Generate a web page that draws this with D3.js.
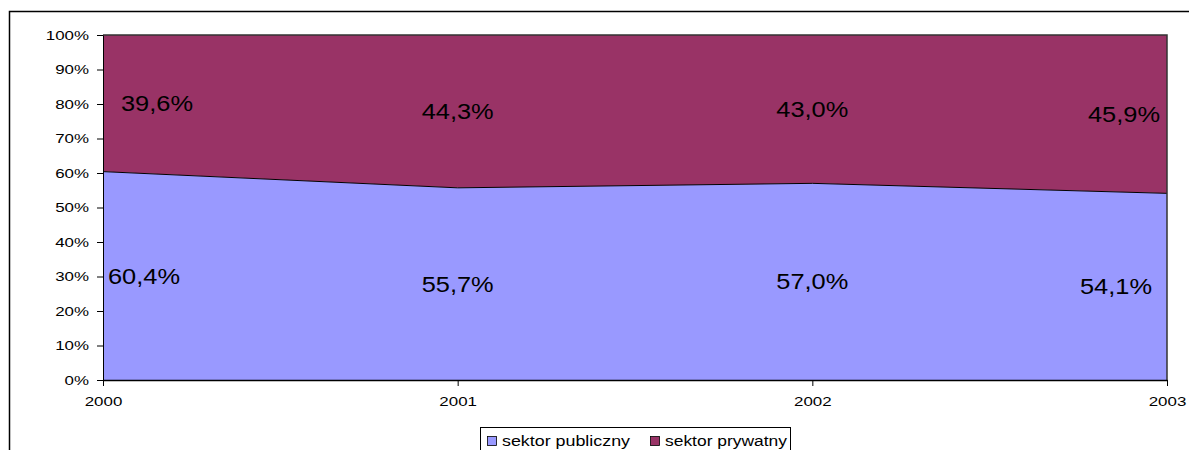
<!DOCTYPE html>
<html>
<head>
<meta charset="utf-8">
<script src="https://cdn.jsdelivr.net/npm/d3@7"></script>
<style>
  body { margin: 0; background: #fff; }
  svg { display: block; font-family: "Liberation Sans", Arial, sans-serif; }
</style>
</head>
<body>
<script>
const years = ['2000', '2001', '2002', '2003'];
const publiczny = [60.4, 55.7, 57.0, 54.1];
const prywatny = [39.6, 44.3, 43.0, 45.9];
const yTicks = [0, 10, 20, 30, 40, 50, 60, 70, 80, 90, 100];
const seriesNames = ['sektor publiczny', 'sektor prywatny'];
const colors = ['#9999FF', '#993366'];

const W = 1189, H = 450;
const m = {top: 35, left: 103, right: 22, bottom: 70};

const svg = d3.select('body').append('svg').attr('width', W).attr('height', H);

// outer frame of the chart
svg.append('rect').attr('x', 9.5).attr('y', 11.5).attr('width', W).attr('height', H)
  .attr('fill', 'none').attr('stroke', '#000').attr('stroke-width', 1.5);

const x = d3.scalePoint().domain(years).range([m.left, W - m.right]);
const y = d3.scaleLinear().domain([0, 100]).range([H - m.bottom, m.top]);

const rows = years.map((yr, i) => ({year: yr, pub: publiczny[i], pry: prywatny[i]}));

const areaPub = d3.area().x(d => x(d.year)).y0(y(0)).y1(d => y(d.pub));
const areaPry = d3.area().x(d => x(d.year)).y0(d => y(d.pub)).y1(d => y(d.pub + d.pry));

svg.append('path').datum(rows).attr('d', areaPub).attr('fill', colors[0]);
svg.append('path').datum(rows).attr('d', areaPry).attr('fill', colors[1]);

svg.append('path').datum(rows)
  .attr('d', d3.line().x(d => x(d.year)).y(d => y(d.pub)))
  .attr('fill', 'none').attr('stroke', '#000').attr('stroke-width', 1);

svg.append('path')
  .attr('d', 'M' + x('2000') + ',' + y(100) + 'H' + x('2003') + 'V' + y(0))
  .attr('fill', 'none').attr('stroke', '#333').attr('stroke-width', 1.5);

// excel text looks wider than the fonts here, stretch it
function stretch(sel, k) {
  sel.each(function() {
    const w = this.getComputedTextLength();
    d3.select(this).attr('textLength', w * k).attr('lengthAdjust', 'spacingAndGlyphs');
  });
}

const yAxis = d3.axisLeft(y).tickValues(yTicks).tickFormat(d => d + '%').tickSize(6).tickSizeOuter(0);
const gy = svg.append('g').attr('transform', 'translate(' + x('2000') + ',0)').call(yAxis);
gy.select('.domain').attr('stroke', '#000');
gy.selectAll('text').attr('font-size', 13).attr('fill', '#000').attr('x', -14);
stretch(gy.selectAll('text'), 1.3);

const xAxis = d3.axisBottom(x).tickSize(6).tickSizeOuter(0);
const gx = svg.append('g').attr('transform', 'translate(0,' + y(0) + ')').call(xAxis);
gx.select('.domain').attr('stroke', '#000').attr('stroke-width', 1.5);
gx.selectAll('text').attr('font-size', 13).attr('fill', '#000').attr('y', 26).attr('dy', 0);
stretch(gx.selectAll('text'), 1.3);

// data labels
const fmt = v => v.toFixed(1).replace('.', ',') + '%';
const anchor = i => i === 0 ? 'start' : (i === years.length - 1 ? 'end' : 'middle');
const pubDx = [5, 0, 0, -15];
const pryDx = [18, 0, 0, -7];

rows.forEach((d, i) => {
  svg.append('text').attr('x', x(d.year) + pubDx[i]).attr('y', y(d.pub / 2))
    .attr('dy', '0.35em').attr('text-anchor', anchor(i)).attr('font-size', 22).attr('fill', '#000')
    .attr('textLength', 72).attr('lengthAdjust', 'spacingAndGlyphs')
    .text(fmt(d.pub));
  svg.append('text').attr('x', x(d.year) + pryDx[i]).attr('y', y(d.pub + d.pry / 2))
    .attr('dy', '0.35em').attr('text-anchor', anchor(i)).attr('font-size', 22).attr('fill', '#000')
    .attr('textLength', 72).attr('lengthAdjust', 'spacingAndGlyphs')
    .text(fmt(d.pry));
});

// legend
const lg = svg.append('g');
lg.append('rect').attr('x', 480.5).attr('y', 427.5).attr('width', 310).attr('height', 30)
  .attr('fill', '#fff').attr('stroke', '#000');
const legX = [487, 650];
const legW = [128, 122];
seriesNames.forEach((n, i) => {
  lg.append('rect').attr('x', legX[i] + 0.5).attr('y', 436.5).attr('width', 9).attr('height', 9)
    .attr('fill', colors[i]).attr('stroke', '#000').attr('stroke-width', 0.8);
  lg.append('text').attr('x', legX[i] + 15).attr('y', 446).attr('font-size', 14).attr('fill', '#000')
    .attr('textLength', legW[i]).attr('lengthAdjust', 'spacingAndGlyphs').text(n);
});
</script>
</body>
</html>
